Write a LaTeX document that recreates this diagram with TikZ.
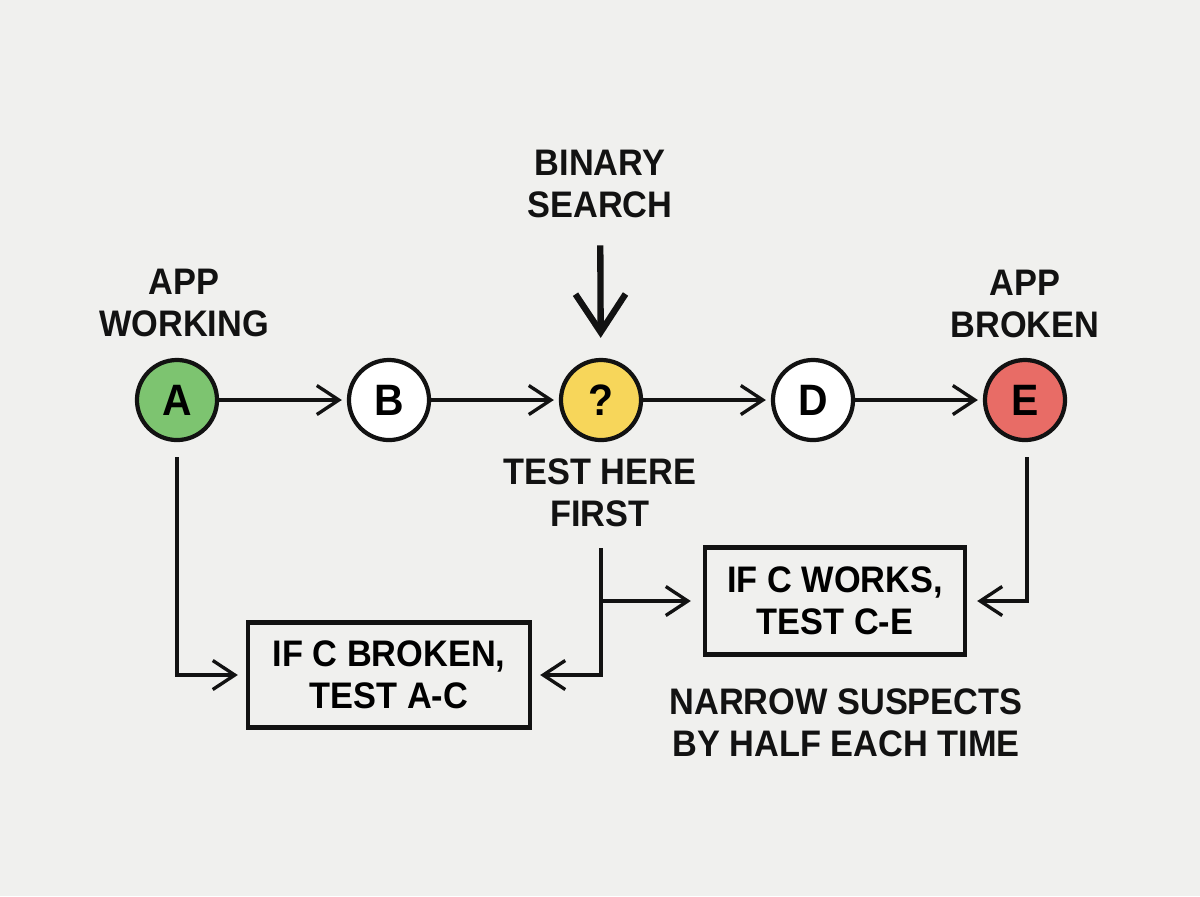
\documentclass[tikz,border=0pt]{standalone}
\usepackage{fontspec}
\setmainfont[FakeStretch=0.93]{Liberation Sans}
\usepackage{xcolor}
\usepackage{tikz}
\usetikzlibrary{arrows.meta,calc}

\definecolor{paper}{RGB}{240,240,238}
\definecolor{okgreen}{RGB}{125,196,112}
\definecolor{midyellow}{RGB}{247,214,90}
\definecolor{badred}{RGB}{232,108,102}
\definecolor{ink}{RGB}{18,18,18}

\begin{document}
\begin{tikzpicture}[x=0.01cm, y=-0.01cm,
  font=\fontsize{10.5}{12}\selectfont\bfseries,
  commit/.style={circle, draw=ink, line width=1.2pt, minimum size=0.8cm, inner sep=0pt, fill=white,
    font=\fontsize{12.5}{12}\selectfont\bfseries},
  label/.style={align=center, text=ink},
  testbox/.style={draw=ink, line width=1.2pt, align=center, inner sep=0pt},
  conn/.style={draw=ink, line width=0.95pt, -{Straight Barb[length=2.2mm,width=2.9mm,line width=0.95pt]}},
  bigarrow/.style={draw=ink, line width=1.8pt, -{Straight Barb[length=3.8mm,width=5mm,line width=1.8pt]}}]
% page
\fill[paper] (0,0) rectangle (1200,896);
\useasboundingbox (0,0) rectangle (1200,896);
% commits in a row
\node[commit, fill=okgreen]   (A) at (177,400) {A};
\node[commit]                 (B) at (389,400) {B};
\node[commit, fill=midyellow] (C) at (601,400) {?};
\node[commit]                 (D) at (813,400) {D};
\node[commit, fill=badred]    (E) at (1025,400) {E};
\foreach \from/\to in {A/B, B/C, C/D, D/E}
  \draw[conn, shorten >=0.05cm] (\from) -- (\to);
% labels above and below
\node[label] (working) at (184,303) {APP\\WORKING};
\node[label] (broken)  at (1025,304) {APP\\BROKEN};
\node[label] (search)  at (600,184) {BINARY\\SEARCH};
\node[label] (first)   at (600,493) {TEST HERE\\FIRST};
\draw[bigarrow, shorten <=0.15cm, shorten >=0.2cm] (search) -- (C);
% the two halves
\node[testbox, minimum width=2.82cm, minimum height=1.05cm] (left)  at (389,675) {IF C BROKEN,\\TEST A-C};
\node[testbox, minimum width=2.60cm, minimum height=1.07cm] (right) at (835,601) {IF C WORKS,\\TEST C-E};
\node[label] (narrow) at (846,723) {NARROW SUSPECTS\\BY HALF EACH TIME};
% connectors to the halves
\coordinate (aDrop) at (177,457);
\coordinate (cDrop) at (601,548);
\coordinate (eDrop) at (1027,457);
\draw[conn, shorten >=0.08cm] (aDrop) |- (left.west);
\draw[conn, shorten >=0.08cm] (cDrop) |- (left.east);
\draw[conn, shorten >=0.12cm] (cDrop |- right.west) -- (right.west);
\draw[conn, shorten >=0.1cm] (eDrop) |- (right.east);
\end{tikzpicture}
\end{document}
